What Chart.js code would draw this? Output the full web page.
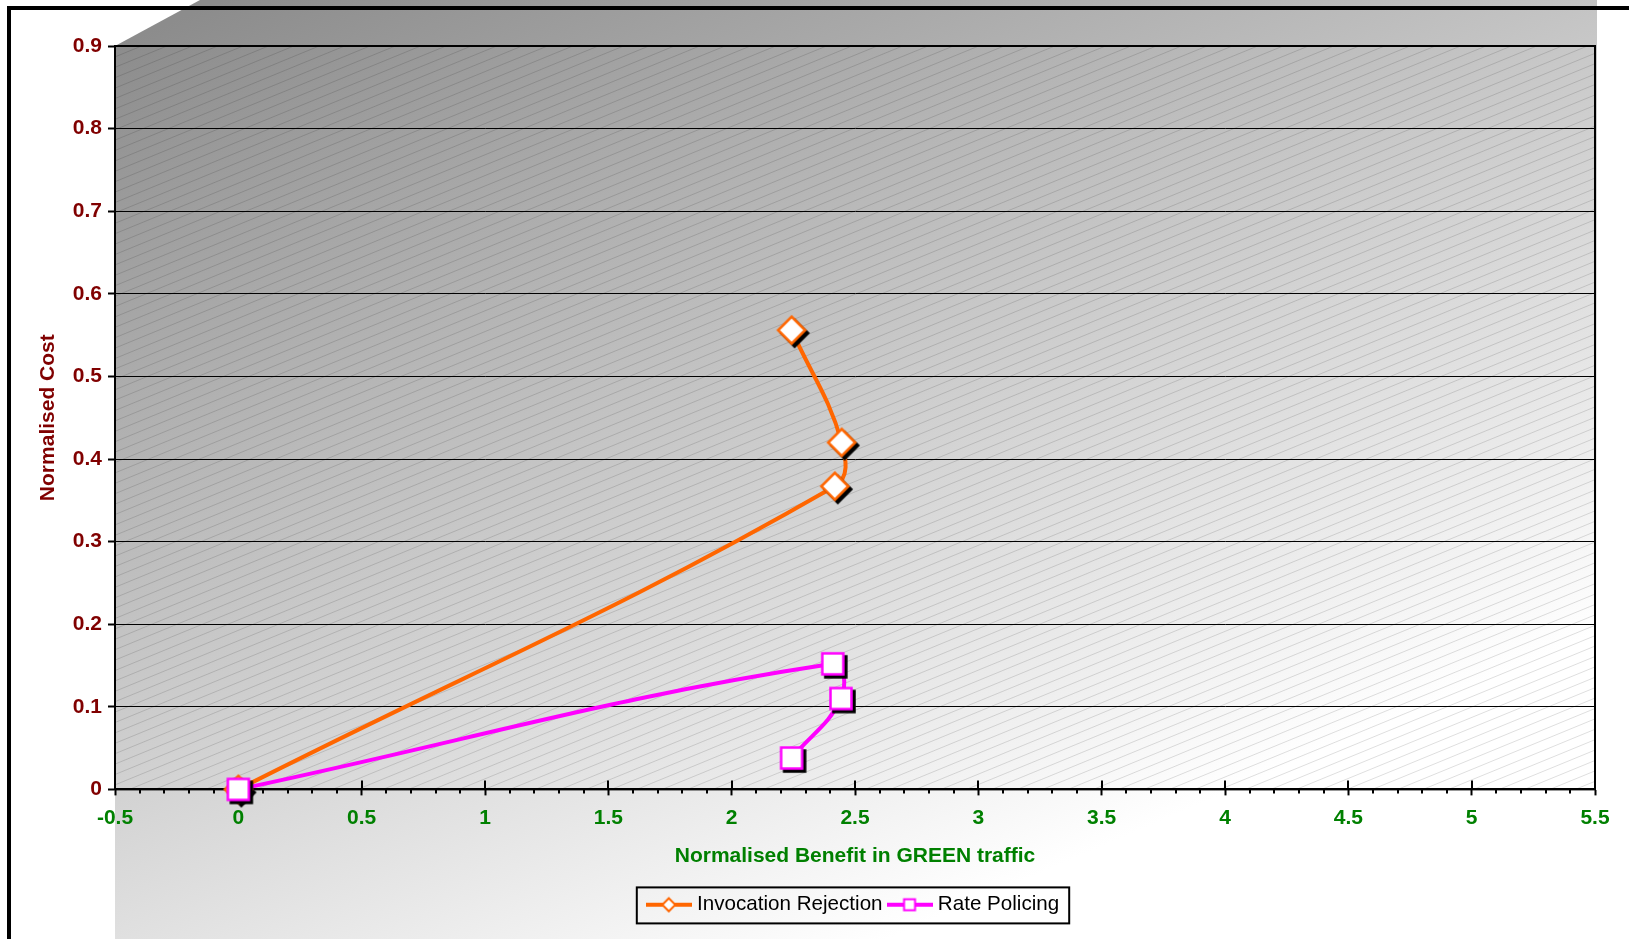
<!DOCTYPE html>
<html>
<head>
<meta charset="utf-8">
<script src="https://cdn.jsdelivr.net/npm/chart.js@4.4.0/dist/chart.umd.min.js"></script>
<style>
html, body { margin: 0; padding: 0; background: #fff; }
</style>
</head>
<body>
<canvas id="costChart" width="1629" height="939"></canvas>
<script>
// values
const seriesLabels = ['Invocation Rejection', 'Rate Policing'];
const rejectionBenefit = [0, 2.418, 2.446, 2.243];
const rejectionCost = [0, 0.367, 0.42, 0.556];
const policingBenefit = [0, 2.41, 2.443, 2.243];
const policingCost = [0, 0.152, 0.11, 0.038];
const xTickValues = [-0.5, 0, 0.5, 1, 1.5, 2, 2.5, 3, 3.5, 4, 4.5, 5, 5.5];
const yTickValues = [0, 0.1, 0.2, 0.3, 0.4, 0.5, 0.6, 0.7, 0.8, 0.9];

const FONT = "'Liberation Sans', Arial, sans-serif";
const orange = '#ff6600';
const magenta = '#ff00ff';

const toPoints = (xs, ys) => xs.map((x, i) => ({ x, y: ys[i] }));

const shapePath = (g, shape, cx, cy, r) => {
    g.beginPath();
    if (shape === 'diamond') {
        g.moveTo(cx, cy - r);
        g.lineTo(cx + r, cy);
        g.lineTo(cx, cy + r);
        g.lineTo(cx - r, cy);
        g.closePath();
    } else {
        g.rect(cx - r, cy - r, 2 * r, 2 * r);
    }
};

// marker with a dropped shadow, as in the original
const makeMarker = (shape, color, r) => {
    const c = document.createElement('canvas');
    c.width = 44; c.height = 44;
    const g = c.getContext('2d');
    shapePath(g, shape, 25, 25, r);
    g.fillStyle = '#000'; g.fill();
    g.lineWidth = 2.5; g.strokeStyle = '#000'; g.stroke();
    shapePath(g, shape, 22, 22, r);
    g.fillStyle = '#fff'; g.fill();
    g.strokeStyle = color; g.stroke();
    return c;
};

// legend sample: line with the marker in the middle
const makeLegendIcon = (shape, color, r) => {
    const c = document.createElement('canvas');
    c.width = 46; c.height = 20;
    const g = c.getContext('2d');
    g.strokeStyle = color; g.lineWidth = 4;
    g.beginPath(); g.moveTo(0, 10); g.lineTo(46, 10); g.stroke();
    shapePath(g, shape, 23, 10, r);
    g.fillStyle = '#fff'; g.fill();
    g.lineWidth = 2; g.stroke();
    return c;
};

const legendIcons = [makeLegendIcon('diamond', orange, 6.5), makeLegendIcon('square', magenta, 5.5)];

const chartBackdrop = {
    id: 'chartBackdrop',
    beforeDraw(chart) {
        const { ctx, chartArea: a, width, height } = chart;
        ctx.save();
        ctx.fillStyle = '#fff';
        ctx.fillRect(0, 0, width, height);

        const grad = ctx.createLinearGradient(a.left, a.top, a.left + 447, a.top + 1034);
        grad.addColorStop(0, '#8c8c8c');
        grad.addColorStop(1, '#ffffff');
        ctx.beginPath();
        ctx.moveTo(a.left, a.top);
        ctx.lineTo(a.left + 85, 0);
        ctx.lineTo(a.right + 2, 0);
        ctx.lineTo(a.right + 2, height);
        ctx.lineTo(a.left, height);
        ctx.closePath();
        ctx.fillStyle = grad;
        ctx.fill();

        // hatching inside the plot area
        ctx.save();
        ctx.beginPath();
        ctx.rect(a.left, a.top, a.width, a.height);
        ctx.clip();
        ctx.strokeStyle = 'rgba(0,0,0,0.13)';
        ctx.lineWidth = 1;
        const slope = 0.41, gap = 10.4;
        for (let y0 = a.top; y0 < a.bottom + slope * a.width; y0 += gap) {
            ctx.beginPath();
            ctx.moveTo(a.left, y0 + 0.5);
            ctx.lineTo(a.right, y0 - slope * a.width + 0.5);
            ctx.stroke();
        }
        ctx.restore();

        // outer frame
        ctx.strokeStyle = '#000';
        ctx.lineWidth = 4;
        ctx.beginPath();
        ctx.moveTo(9, height + 5);
        ctx.lineTo(9, 8);
        ctx.lineTo(width + 5, 8);
        ctx.stroke();
        ctx.restore();
    },
    beforeDatasetsDraw(chart) {
        const { ctx, chartArea: a } = chart;
        const xs = chart.scales.x;
        ctx.save();
        ctx.strokeStyle = '#000';
        ctx.lineWidth = 2;
        ctx.strokeRect(a.left, a.top, a.width, a.height);
        xTickValues.forEach((v, i) => {
            const px = Math.round(xs.getPixelForValue(v));
            ctx.beginPath();
            ctx.moveTo(px, a.bottom - 9);
            ctx.lineTo(px, a.bottom);
            ctx.stroke();
            if (i < xTickValues.length - 1) {
                const next = xTickValues[i + 1];
                for (let k = 1; k < 5; k++) {
                    const mx = Math.round(xs.getPixelForValue(v + (next - v) * k / 5));
                    ctx.beginPath();
                    ctx.moveTo(mx, a.bottom);
                    ctx.lineTo(mx, a.bottom + 4);
                    ctx.stroke();
                }
            }
        });
        ctx.restore();
    },
    afterDraw(chart) {
        const boxes = chart.legend.legendHitBoxes;
        if (!boxes || !boxes.length) return;
        const first = boxes[0], last = boxes[boxes.length - 1];
        const { ctx } = chart;
        ctx.save();
        ctx.strokeStyle = '#000';
        ctx.lineWidth = 2;
        const left = first.left - 14, right = last.left + last.width + 10;
        ctx.strokeRect(left, first.top - 7, right - left, 36);
        ctx.restore();
    }
};

new Chart(document.getElementById('costChart'), {
    type: 'scatter',
    data: {
        datasets: [
            {
                label: seriesLabels[0],
                data: toPoints(rejectionBenefit, rejectionCost),
                showLine: true,
                clip: false,
                borderColor: orange,
                backgroundColor: orange,
                borderWidth: 4,
                tension: 0.4,
                pointStyle: makeMarker('diamond', orange, 13.5),
                order: 1
            },
            {
                label: seriesLabels[1],
                data: toPoints(policingBenefit, policingCost),
                showLine: true,
                clip: false,
                borderColor: magenta,
                backgroundColor: magenta,
                borderWidth: 4,
                tension: 0.4,
                pointStyle: makeMarker('square', magenta, 10.5),
                order: 0
            }
        ]
    },
    options: {
        responsive: false,
        animation: false,
        devicePixelRatio: 1,
        layout: { padding: { top: 46, left: 0, right: 34, bottom: 14 } },
        scales: {
            x: {
                type: 'linear',
                min: -0.5,
                max: 5.5,
                afterBuildTicks: scale => { scale.ticks = xTickValues.map(value => ({ value })); },
                afterFit: scale => { scale.height = 96; },
                border: { color: '#000', width: 2 },
                grid: { drawOnChartArea: false, tickLength: 6, tickColor: '#000', tickWidth: 2 },
                ticks: {
                    color: '#008000',
                    font: { family: FONT, size: 21, weight: 'bold' },
                    padding: 10,
                    autoSkip: false,
                    maxRotation: 0,
                    callback: value => String(value)
                },
                title: {
                    display: true,
                    text: 'Normalised Benefit in GREEN traffic',
                    color: '#008000',
                    font: { family: FONT, size: 21, weight: 'bold' },
                    padding: { top: 0, bottom: 16.4 }
                }
            },
            y: {
                type: 'linear',
                min: 0,
                max: 0.9,
                afterBuildTicks: scale => { scale.ticks = yTickValues.map(value => ({ value })); },
                afterFit: scale => { scale.width = 115; },
                border: { color: '#000', width: 2 },
                grid: { color: '#000', lineWidth: 1, tickLength: 7, tickColor: '#000', tickWidth: 2 },
                ticks: {
                    color: '#800000',
                    font: { family: FONT, size: 21, weight: 'bold' },
                    padding: 6,
                    callback: value => String(value)
                },
                title: {
                    display: true,
                    text: 'Normalised Cost',
                    color: '#800000',
                    font: { family: FONT, size: 21, weight: 'bold' },
                    padding: { top: 35.4, bottom: 0 }
                }
            }
        },
        plugins: {
            tooltip: { enabled: false },
            legend: {
                position: 'bottom',
                fullSize: false,
                labels: {
                    usePointStyle: true,
                    pointStyleWidth: 36,
                    boxHeight: 20,
                    padding: 9,
                    color: '#000',
                    font: { family: FONT, size: 20.6 },
                    sort: (a, b) => a.datasetIndex - b.datasetIndex,
                    generateLabels: chart => Chart.defaults.plugins.legend.labels.generateLabels(chart)
                        .map(item => ({ ...item, pointStyle: legendIcons[item.datasetIndex] }))
                }
            }
        }
    },
    plugins: [chartBackdrop]
});
</script>
</body>
</html>
